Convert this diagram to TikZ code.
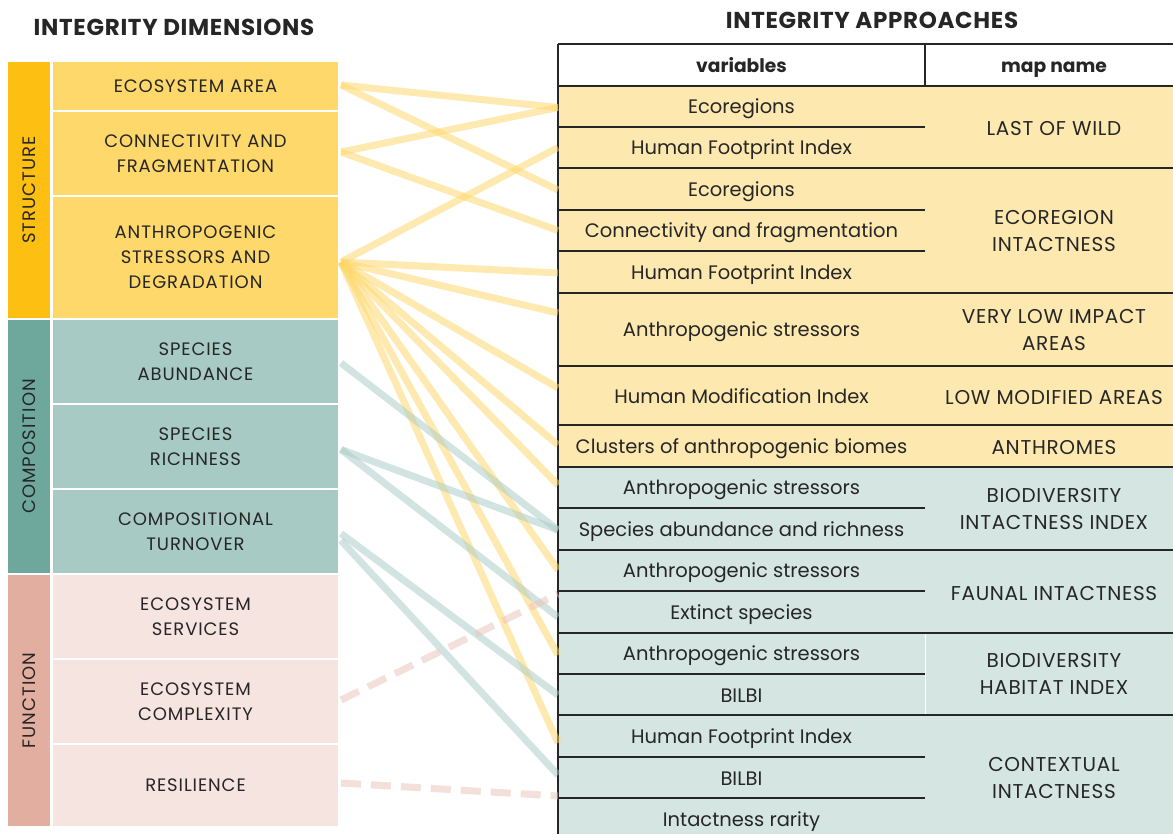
\documentclass[tikz,border=0pt]{standalone}
\usepackage{fontspec}
\setmainfont{Poppins}
\usetikzlibrary{calc}

\definecolor{txt}{HTML}{262626}
\definecolor{strbar}{HTML}{FCBF12}
\definecolor{stritem}{HTML}{FED86A}
\definecolor{strcell}{HTML}{FDE9B0}
\definecolor{combar}{HTML}{6EA89D}
\definecolor{comitem}{HTML}{A7CBC4}
\definecolor{comcell}{HTML}{D4E5E2}
\definecolor{funbar}{HTML}{E2AE9F}
\definecolor{funitem}{HTML}{F6E4E0}
\definecolor{funlink}{HTML}{EBC3B8}

\tikzset{
  base/.style={inner sep=0pt, outer sep=0pt, align=center, text=txt},
  title/.style={base, font=\fontsize{23}{26}\selectfont\bfseries\addfontfeatures{LetterSpace=3}},
  catbar/.style={base, rotate=90, minimum height=42pt,
    font=\fontsize{18}{20}\selectfont\addfontfeatures{LetterSpace=6}},
  dimbox/.style={base, minimum width=285pt,
    font=\fontsize{18}{25}\selectfont\addfontfeatures{LetterSpace=5}},
  % multi-line labels sit a little lower in their box
  dimmulti/.style={dimbox, text depth=-8pt},
  varcell/.style={base, minimum width=367pt, font=\fontsize{19.5}{22}\selectfont,
    execute at begin node={\rule[-4.5pt]{0pt}{24pt}}},
  mapfont/.style={base, minimum width=258pt,
    font=\fontsize{20}{27}\selectfont\addfontfeatures{LetterSpace=3.5}},
  mapcell/.style={mapfont, execute at begin node={\rule{0pt}{18pt}}},
  mapmulti/.style={mapfont, text depth=-7pt},
  headcell/.style={base, minimum height=42pt, font=\fontsize{18.7}{22}\selectfont\bfseries,
    execute at begin node={\rule[-5pt]{0pt}{25.8pt}}},
  rule/.style={draw=txt, line width=1.8pt},
  ylink/.style={draw=stritem, draw opacity=0.52, line width=7pt},
  tlink/.style={draw=comitem, draw opacity=0.5, line width=7pt},
  plink/.style={draw=funlink, draw opacity=0.5, line width=7pt, dash pattern=on 20pt off 10pt},
}

\begin{document}
\begin{tikzpicture}[x=1pt, y=-1pt]
\useasboundingbox[fill=white] (0,0) rectangle (1173,834);

% ---------- titles ----------
\node[title] (tdim) at (174,27) {INTEGRITY DIMENSIONS};
\node[title] (tapp) at (872,20) {INTEGRITY APPROACHES};

% ---------- dimension groups (left) ----------
\node[catbar, fill=strbar, minimum width=256pt] (sbar) at (29,190) {STRUCTURE};
\node[catbar, fill=combar, minimum width=253pt] (cbar) at (29,446.5) {COMPOSITION};
\node[catbar, fill=funbar, minimum width=251pt] (fbar) at (29,700.5) {FUNCTION};

\node[dimbox,   fill=stritem, minimum height=48pt]  (ea)  at (195.5,86)    {ECOSYSTEM AREA};
\node[dimmulti, fill=stritem, minimum height=83pt]  (cf)  at (195.5,153.5) {CONNECTIVITY AND\\FRAGMENTATION};
\node[dimmulti, fill=stritem, minimum height=121pt] (asd) at (195.5,257.5) {ANTHROPOGENIC\\STRESSORS AND\\DEGRADATION};
\node[dimmulti, fill=comitem, minimum height=83pt]  (sa)  at (195.5,361.5) {SPECIES\\ABUNDANCE};
\node[dimmulti, fill=comitem, minimum height=83pt]  (sr)  at (195.5,446.5) {SPECIES\\RICHNESS};
\node[dimmulti, fill=comitem, minimum height=83pt]  (ct)  at (195.5,531.5) {COMPOSITIONAL\\TURNOVER};
\node[dimmulti, fill=funitem, minimum height=83pt]  (es)  at (195.5,616.5) {ECOSYSTEM\\SERVICES};
\node[dimmulti, fill=funitem, minimum height=83pt]  (ec)  at (195.5,701.5) {ECOSYSTEM\\COMPLEXITY};
\node[dimbox,   fill=funitem, minimum height=81pt]  (re)  at (195.5,785.5) {RESILIENCE};

% ---------- approaches table (right) ----------
\node[headcell, minimum width=367pt, fill=white] (hv) at (741.5,65) {variables};
\node[headcell, minimum width=258pt, fill=white] (hm) at (1054,65) {map name};

\node[varcell, fill=strcell, minimum height=41pt] (v1)  at (741.5,106.5) {Ecoregions};
\node[varcell, fill=strcell, minimum height=41pt] (v2)  at (741.5,147.5) {Human Footprint Index};
\node[varcell, fill=strcell, minimum height=42pt] (v3)  at (741.5,189)   {Ecoregions};
\node[varcell, fill=strcell, minimum height=41pt] (v4)  at (741.5,230.5) {Connectivity and fragmentation};
\node[varcell, fill=strcell, minimum height=42pt] (v5)  at (741.5,272)   {Human Footprint Index};
\node[varcell, fill=strcell, minimum height=73pt] (v6)  at (741.5,329.5) {Anthropogenic stressors};
\node[varcell, fill=strcell, minimum height=59pt] (v7)  at (741.5,395.5) {Human Modification Index};
\node[varcell, fill=strcell, minimum height=42pt] (v8)  at (741.5,446)   {Clusters of anthropogenic biomes};
\node[varcell, fill=comcell, minimum height=41pt] (v9)  at (741.5,487.5) {Anthropogenic stressors};
\node[varcell, fill=comcell, minimum height=42pt] (v10) at (741.5,529)   {Species abundance and richness};
\node[varcell, fill=comcell, minimum height=41pt] (v11) at (741.5,570.5) {Anthropogenic stressors};
\node[varcell, fill=comcell, minimum height=42pt] (v12) at (741.5,612)   {Extinct species};
\node[varcell, fill=comcell, minimum height=41pt] (v13) at (741.5,653.5) {Anthropogenic stressors};
\node[varcell, fill=comcell, minimum height=41pt] (v14) at (741.5,694.5) {BILBI};
\node[varcell, fill=comcell, minimum height=42pt] (v15) at (741.5,736)   {Human Footprint Index};
\node[varcell, fill=comcell, minimum height=41pt] (v16) at (741.5,777.5) {BILBI};
\node[varcell, fill=comcell, minimum height=42pt] (v17) at (741.5,819)   {Intactness rarity};

\node[mapcell,  fill=strcell, minimum height=82pt]  (m1) at (1054,127)   {LAST OF WILD};
\node[mapmulti, fill=strcell, minimum height=125pt] (m2) at (1054,230.5) {ECOREGION\\INTACTNESS};
\node[mapmulti, fill=strcell, minimum height=73pt]  (m3) at (1054,329.5) {VERY LOW IMPACT\\AREAS};
\node[mapcell,  fill=strcell, minimum height=59pt]  (m4) at (1054,395.5) {LOW MODIFIED AREAS};
\node[mapcell,  fill=strcell, minimum height=42pt]  (m5) at (1054,446)   {ANTHROMES};
\node[mapmulti, fill=comcell, minimum height=83pt]  (m6) at (1054,508.5) {BIODIVERSITY\\INTACTNESS INDEX};
\node[mapcell,  fill=comcell, minimum height=83pt]  (m7) at (1054,591.5) {FAUNAL INTACTNESS};
\node[mapmulti, fill=comcell, minimum height=82pt]  (m8) at (1054,674)   {BIODIVERSITY\\HABITAT INDEX};
\node[mapmulti, fill=comcell, minimum height=125pt] (m9) at (1054,777.5) {CONTEXTUAL\\INTACTNESS};

% thin white divider inside the habitat index block
\draw[white, line width=1pt] (m8.north west) -- (m8.south west);

% rules between variables of one map
\foreach \c in {v1,v3,v4,v9,v11,v13,v15,v16}
  \draw[rule] (\c.south west) -- (\c.south east);
% rules between maps
\draw[rule] (hv.south west) -- (hm.south east);
\draw[rule] (v2.south west) -- (m1.south east);
\draw[rule] (v5.south west) -- (m2.south east);
\draw[rule] (v6.south west) -- (m3.south east);
\draw[rule] (v7.south west) -- (m4.south east);
\draw[rule] (v8.south west) -- (m5.south east);
\draw[rule] (v10.south west) -- (m6.south east);
\draw[rule] (v12.south west) -- (m7.south east);
\draw[rule] (v14.south west) -- (m8.south east);
% outer frame and header divider
\draw[rule] (hv.north west) -- (hm.north east);
\draw[rule] (hv.north west) -- (v17.south west);
\draw[rule] (hv.north east) -- (hv.south east);

% ---------- links: structure ----------
\draw[ylink] ([xshift=3pt,yshift=1pt]ea.east) -- ([yshift=-1pt]v1.west);
\draw[ylink] ([xshift=3pt,yshift=1pt]ea.east) -- ([yshift=-1pt]v3.west);
\draw[ylink] ([xshift=3pt,yshift=1.5pt]cf.east) -- ([yshift=-1pt]v1.west);
\draw[ylink] ([xshift=3pt,yshift=1.5pt]cf.east) -- (v4.west);
\foreach \t/\dy in {v2/0, v5/-1, v6/16.5, v7/7.5, v8/1, v9/2.5, v11/0.5, v13/-1.5, v15/-7}
  \draw[ylink] ([xshift=3pt,yshift=-4.5pt]asd.east) -- ([yshift=\dy pt]\t.west);

% ---------- links: composition ----------
\draw[tlink] ([xshift=3pt,yshift=-1.5pt]sa.east) -- ([yshift=-1pt]v10.west);
\draw[tlink] ([xshift=3pt,yshift=-3pt]sr.east) -- ([yshift=-1pt]v10.west);
\draw[tlink] ([xshift=3pt,yshift=-3pt]sr.east) -- ([yshift=-5pt]v12.west);
\draw[tlink] ([xshift=3pt,yshift=-2pt]ct.east) -- ([yshift=-0.5pt]v14.west);
\draw[tlink] ([xshift=3pt,yshift=-9pt]ct.east) -- ([yshift=2.5pt]v16.west);

% ---------- links: function ----------
\draw[plink] ([xshift=3pt,yshift=1.5pt]ec.east) -- ([yshift=-3pt]v11.south west);
\draw[plink] ([xshift=3pt,yshift=2.5pt]re.east) -- ([yshift=2pt]v16.south west);
\end{tikzpicture}
\end{document}
